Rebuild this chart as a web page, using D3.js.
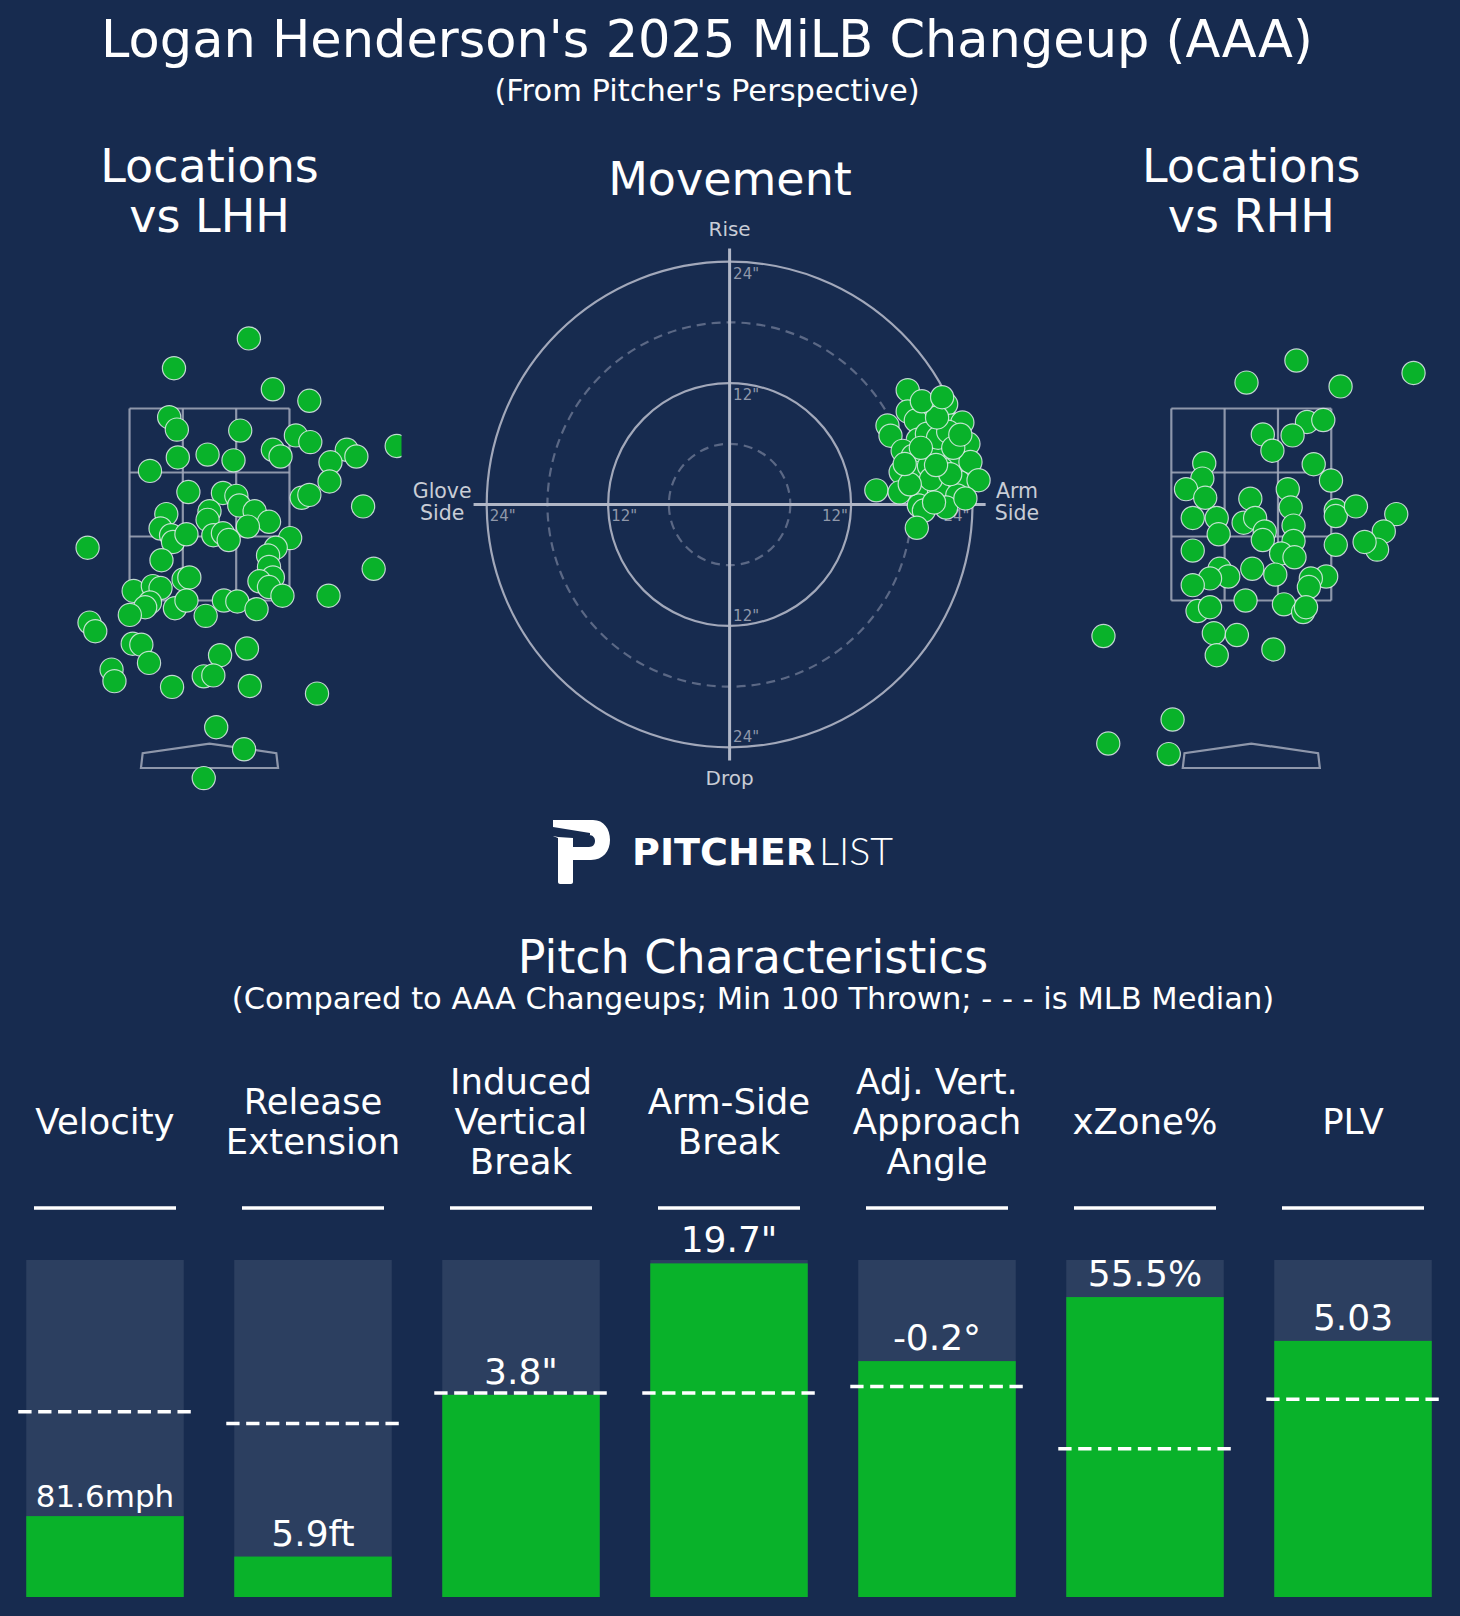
<!DOCTYPE html>
<html>
<head>
<meta charset="utf-8">
<script src="https://cdn.jsdelivr.net/npm/d3@7"></script>
<style>
  body { margin: 0; background: #172b4f; }
  svg { display: block; }
  text { font-family: "DejaVu Sans", sans-serif; }
</style>
</head>
<body>
<svg id="chart" width="1460" height="1616"></svg>
<script>
// pitch locations in feet (plate_x, plate_z), pitcher's perspective
const lhhLocations = [
  [0.41,4.23],[-0.37,3.92],[0.66,3.70],[1.04,3.58],[-0.42,3.41],[-0.34,3.28],[0.32,3.27],[0.90,3.22],
  [1.05,3.15],[1.95,3.11],[-0.33,2.99],[-0.02,3.02],[0.25,2.96],[0.66,3.07],[0.74,3.00],[1.43,3.07],
  [1.53,3.00],[1.26,2.94],[1.25,2.74],[-0.62,2.85],[-0.22,2.63],[0.14,2.62],[0.28,2.59],[0.31,2.49],
  [0.00,2.43],[0.47,2.43],[0.62,2.32],[0.40,2.27],[0.96,2.57],[1.04,2.60],[1.60,2.48],[-0.45,2.40],
  [-0.51,2.25],[-0.40,2.18],[-0.38,2.11],[-0.24,2.19],[-0.02,2.34],[0.04,2.18],[0.14,2.20],[0.20,2.13],
  [0.84,2.15],[0.69,2.05],[0.61,1.97],[0.62,1.85],[0.66,1.74],[-1.27,2.05],[-0.50,1.92],[1.71,1.83],
  [1.24,1.55],[-0.79,1.60],[-0.59,1.65],[-0.51,1.63],[-0.27,1.72],[-0.21,1.74],[-0.62,1.48],[-0.67,1.43],
  [-0.83,1.35],[-0.36,1.42],[-0.24,1.50],[-0.04,1.34],[0.15,1.50],[0.29,1.49],[0.49,1.41],[0.52,1.70],
  [0.62,1.64],[0.76,1.55],[-1.25,1.27],[-1.19,1.18],[-0.80,1.05],[-0.71,1.04],[-0.63,0.85],[0.11,0.93],
  [0.39,1.00],[-1.02,0.78],[-0.99,0.66],[-0.39,0.60],[-0.06,0.71],[0.04,0.72],[0.42,0.61],[1.12,0.53],
  [0.07,0.18],[0.36,-0.05],[-0.06,-0.35]
];
const rhhLocations = [
  [0.47,4.00],[-0.05,3.77],[0.93,3.73],[0.58,3.36],[0.75,3.38],[0.12,3.23],[0.22,3.06],[0.43,3.22],
  [-0.49,2.93],[-0.51,2.77],[-0.68,2.66],[-0.48,2.57],[0.65,2.92],[0.83,2.75],[0.38,2.66],[0.41,2.47],
  [0.44,2.28],[0.44,2.12],[-0.01,2.56],[-0.08,2.31],[0.04,2.36],[0.14,2.22],[0.12,2.13],[-0.61,2.36],
  [-0.36,2.36],[-0.34,2.19],[0.88,2.44],[0.88,2.38],[1.09,2.48],[1.51,2.40],[1.38,2.22],[1.31,2.03],
  [1.18,2.11],[0.88,2.08],[-0.61,2.02],[0.31,1.99],[0.45,1.95],[0.01,1.83],[0.25,1.77],[-0.33,1.83],
  [-0.24,1.75],[-0.43,1.73],[-0.61,1.66],[0.78,1.75],[0.62,1.73],[0.60,1.64],[-0.06,1.50],[0.34,1.46],
  [-0.56,1.39],[-0.43,1.43],[0.54,1.38],[0.57,1.43],[-0.39,1.16],[-0.15,1.14],[-0.36,0.93],[0.23,0.99],
  [-1.54,1.13],[-0.82,0.26],[-1.49,0.01],[-0.86,-0.10],[1.69,3.87]
];
// movement in inches (horizontal break, induced vertical break)
const movement = [
  [17.6,11.3],[17.6,9.2],[15.6,7.8],[15.9,6.8],[21.4,9.9],[19.9,9.4],[19.1,8.5],[18.4,8.3],
  [22.0,7.8],[23.0,8.1],[23.6,6.0],[20.2,6.0],[18.6,6.4],[17.1,5.3],[18.1,4.8],[19.4,4.8],
  [20.9,4.8],[22.3,4.5],[23.8,4.2],[16.9,3.2],[18.1,3.2],[19.7,3.8],[21.0,3.5],[22.7,2.2],
  [24.6,2.4],[14.5,1.4],[16.8,1.2],[19.1,1.5],[20.7,1.2],[22.5,0.9],[18.7,-0.1],[19.2,-0.6],
  [21.4,-0.3],[23.3,0.6],[19.5,7.0],[20.6,6.6],[21.6,7.2],[18.9,5.6],[19.9,2.5],[21.8,3.0],
  [20.2,0.2],[22.1,5.6],[17.8,2.0],[20.5,8.6],[22.8,6.9],[19.0,10.2],[21.0,10.6],[17.3,4.0],
  [20.4,3.9],[18.5,-2.3]
];
const ringRadii = [6, 12, 18, 24];
const ringLabels = ['12"', '24"'];

// pitch characteristics
const metricNames = ["Velocity", "Release\nExtension", "Induced\nVertical\nBreak", "Arm-Side\nBreak",
  "Adj. Vert.\nApproach\nAngle", "xZone%", "PLV"];
const metricValues = ["81.6mph", "5.9ft", "3.8\"", "19.7\"", "-0.2°", "55.5%", "5.03"];
const metricPercentiles = [24, 12, 60, 99, 70, 89, 76];
const medianPercentiles = [55, 51.5, 60.5, 60.5, 62.5, 44, 58.7];

const BG = '#172b4f', GREEN = '#09b22a', BARBG = '#2c3f60';
const svg = d3.select('#chart');
svg.append('rect').attr('width', 1460).attr('height', 1616).attr('fill', BG);

// titles
svg.append('text').attr('x', 707).attr('y', 57).attr('text-anchor', 'middle')
  .attr('font-size', 51).attr('fill', '#fff').text("Logan Henderson's 2025 MiLB Changeup (AAA)");
svg.append('text').attr('x', 707).attr('y', 101).attr('text-anchor', 'middle')
  .attr('font-size', 30.5).attr('fill', '#fff').text("(From Pitcher's Perspective)");

function multiline(g, x, y, lines, size, lh) {
  const t = g.append('text').attr('x', x).attr('text-anchor', 'middle').attr('font-size', size).attr('fill', '#fff');
  lines.forEach((l, i) => t.append('tspan').attr('x', x).attr('y', y + i * lh).text(l));
  return t;
}
multiline(svg, 209.5, 182, ['Locations', 'vs LHH'], 46, 50);
multiline(svg, 1251.3, 182, ['Locations', 'vs RHH'], 46, 50);
svg.append('text').attr('x', 730).attr('y', 195).attr('text-anchor', 'middle')
  .attr('font-size', 46).attr('fill', '#fff').text('Movement');

// location panels
const zoneColor = '#a3aabb';
function drawLocations(cx, data, id) {
  const x = d3.scaleLinear().domain([-2, 2]).range([cx - 192, cx + 192]);
  const y = d3.scaleLinear().domain([-0.5, 5]).range([792.5, 264.5]);
  svg.append('clipPath').attr('id', id).append('rect')
    .attr('x', x(-2)).attr('y', y(5)).attr('width', x(2) - x(-2)).attr('height', y(-0.5) - y(5));
  const g = svg.append('g').attr('clip-path', `url(#${id})`);
  const zx = [-0.833, -0.278, 0.278, 0.833], zz = [1.5, 2.1667, 2.8333, 3.5];
  zx.forEach(v => g.append('line').attr('x1', x(v)).attr('x2', x(v)).attr('y1', y(1.5)).attr('y2', y(3.5))
    .attr('stroke', zoneColor).attr('stroke-width', 2.2).attr('opacity', 0.85));
  zz.forEach(v => g.append('line').attr('x1', x(-0.833)).attr('x2', x(0.833)).attr('y1', y(v)).attr('y2', y(v))
    .attr('stroke', zoneColor).attr('stroke-width', 2.2).attr('opacity', 0.85));
  const plate = [[-0.714, -0.245], [0.714, -0.245], [0.696, -0.09], [0, 0.01], [-0.696, -0.09]];
  g.append('path').attr('d', d3.line().x(d => x(d[0])).y(d => y(d[1]))(plate) + 'Z')
    .attr('fill', 'none').attr('stroke', zoneColor).attr('stroke-width', 2.2).attr('opacity', 0.85);
  g.selectAll('circle.p').data(data).enter().append('circle').attr('class', 'p')
    .attr('cx', d => x(d[0])).attr('cy', d => y(d[1])).attr('r', 11.6)
    .attr('fill', GREEN).attr('stroke', 'rgba(235,240,245,0.8)').attr('stroke-width', 1.2);
}
drawLocations(209.5, lhhLocations, 'clipL');
drawLocations(1251.3, rhhLocations, 'clipR');

// movement plot
const mx = d3.scaleLinear().domain([-30, 30]).range([729.6 - 303.6, 729.6 + 303.6]);
const my = d3.scaleLinear().domain([-30, 30]).range([504.5 + 303.6, 504.5 - 303.6]);
const mg = svg.append('g');
ringRadii.forEach(r => {
  const dashed = r % 12 !== 0;
  mg.append('circle').attr('cx', mx(0)).attr('cy', my(0)).attr('r', mx(r) - mx(0))
    .attr('fill', 'none')
    .attr('stroke', dashed ? '#5b6885' : '#a2a8ba')
    .attr('stroke-width', 2.2)
    .attr('stroke-dasharray', dashed ? '9,6' : null);
});
mg.append('line').attr('x1', mx(-25.3)).attr('x2', mx(25.3)).attr('y1', my(0)).attr('y2', my(0))
  .attr('stroke', '#b0b6c6').attr('stroke-width', 3);
mg.append('line').attr('x1', mx(0)).attr('x2', mx(0)).attr('y1', my(25.3)).attr('y2', my(-25.3))
  .attr('stroke', '#b0b6c6').attr('stroke-width', 3);
const tickCol = '#9098aa';
[12, 24].forEach((r, i) => {
  const lab = ringLabels[i];
  mg.append('text').attr('x', mx(0) + 3.5).attr('y', my(r - 1.2) + 5).attr('font-size', 15).attr('fill', tickCol).text(lab);
  mg.append('text').attr('x', mx(0) + 3.5).attr('y', my(-(r - 1.0)) + 5).attr('font-size', 15).attr('fill', tickCol).text(lab);
  mg.append('text').attr('x', mx(-r) + 3).attr('y', my(0) + 16).attr('font-size', 15).attr('fill', tickCol).text(lab);
  mg.append('text').attr('x', mx(r) - 3).attr('y', my(0) + 16).attr('text-anchor', 'end').attr('font-size', 15).attr('fill', tickCol).text(lab);
});
const labCol = '#c9cdd6';
mg.append('text').attr('x', mx(0)).attr('y', 236).attr('text-anchor', 'middle').attr('font-size', 20).attr('fill', labCol).text('Rise');
mg.append('text').attr('x', mx(0)).attr('y', 785).attr('text-anchor', 'middle').attr('font-size', 20).attr('fill', labCol).text('Drop');
multiline(mg, mx(-28.4), 498, ['Glove', 'Side'], 20.5, 22).attr('fill', labCol);
multiline(mg, mx(28.4), 498, ['Arm', 'Side'], 20.5, 22).attr('fill', labCol);
mg.selectAll('circle.m').data(movement).enter().append('circle').attr('class', 'm')
  .attr('cx', d => mx(d[0])).attr('cy', d => my(d[1])).attr('r', 11.6)
  .attr('fill', GREEN).attr('stroke', 'rgba(235,240,245,0.8)').attr('stroke-width', 1.2);

// Pitcher List logo
const logo = svg.append('g').attr('transform', 'translate(553,820)');
logo.append('path').attr('fill', '#fff').attr('fill-rule', 'evenodd')
  .attr('d', 'M0,0 L40,0 C51,0 57,9 57,20 C57,31 50,40 38,40 L20,40 L20,62 C20,63 19,64 18,64 L7,64 C6,64 5,63 5,62 L5,18 ' +
    'L0,16 Z M0,0 Z M20,15 L36,15 C40,15 42,18 42,21 C42,24 40,27 36,27 L20,27 Z');
// slanted notch of the logo mark
logo.append('path').attr('fill', BG).attr('d', 'M0,7 L37,13 L37,15 L20,15 L20,18 L5,17 L0,16 Z');
logo.append('text').attr('x', 79).attr('y', 45).attr('font-size', 37).attr('font-weight', 'bold')
  .attr('fill', '#fff').attr('textLength', 183).attr('lengthAdjust', 'spacingAndGlyphs').text('PITCHER');
logo.append('text').attr('x', 266).attr('y', 45).attr('font-size', 37).attr('font-weight', 300)
  .style('font-family', 'Lato, "DejaVu Sans"')
  .attr('fill', '#fff').attr('textLength', 74).attr('lengthAdjust', 'spacingAndGlyphs').text('LIST');

// pitch characteristics
svg.append('text').attr('x', 753).attr('y', 973).attr('text-anchor', 'middle')
  .attr('font-size', 46).attr('fill', '#fff').text('Pitch Characteristics');
svg.append('text').attr('x', 753).attr('y', 1009).attr('text-anchor', 'middle')
  .attr('font-size', 30.5).attr('fill', '#fff').text('(Compared to AAA Changeups; Min 100 Thrown; - - - is MLB Median)');

const band = d3.scaleBand().domain(metricNames).range([1, 1457]).paddingInner(0.243).paddingOuter(0.1215);
const pct = d3.scaleLinear().domain([0, 100]).range([1597, 1260]);
const bw = band.bandwidth();

metricNames.forEach((name, i) => {
  const x0 = band(name), cx = x0 + bw / 2;
  const lines = name.split('\n');
  multiline(svg, cx, 1134 - (lines.length - 1) * 20, lines, 35.5, 40);
  svg.append('line').attr('x1', cx - 71).attr('x2', cx + 71).attr('y1', 1208).attr('y2', 1208)
    .attr('stroke', '#fff').attr('stroke-width', 3.5);
});

svg.selectAll('rect.bg').data(metricNames).enter().append('rect').attr('class', 'bg')
  .attr('x', d => band(d)).attr('width', bw).attr('y', pct(100)).attr('height', pct(0) - pct(100)).attr('fill', BARBG);
svg.selectAll('rect.val').data(metricPercentiles).enter().append('rect').attr('class', 'val')
  .attr('x', (d, i) => band(metricNames[i])).attr('width', bw)
  .attr('y', d => pct(d)).attr('height', d => pct(0) - pct(d)).attr('fill', GREEN);
svg.selectAll('line.med').data(medianPercentiles).enter().append('line').attr('class', 'med')
  .attr('x1', (d, i) => band(metricNames[i]) - 8).attr('x2', (d, i) => band(metricNames[i]) + bw + 8)
  .attr('y1', d => pct(d)).attr('y2', d => pct(d))
  .attr('stroke', '#fff').attr('stroke-width', 3.5).attr('stroke-dasharray', '13.3,6.6');
svg.selectAll('text.val').data(metricValues).enter().append('text').attr('class', 'val')
  .attr('x', (d, i) => band(metricNames[i]) + bw / 2)
  .attr('y', (d, i) => pct(metricPercentiles[i]) - (d.length > 6 ? 9 : 11))
  .attr('text-anchor', 'middle').attr('font-size', d => d.length > 6 ? 31 : 36)
  .attr('fill', '#fff').text(d => d);
</script>
</body>
</html>
